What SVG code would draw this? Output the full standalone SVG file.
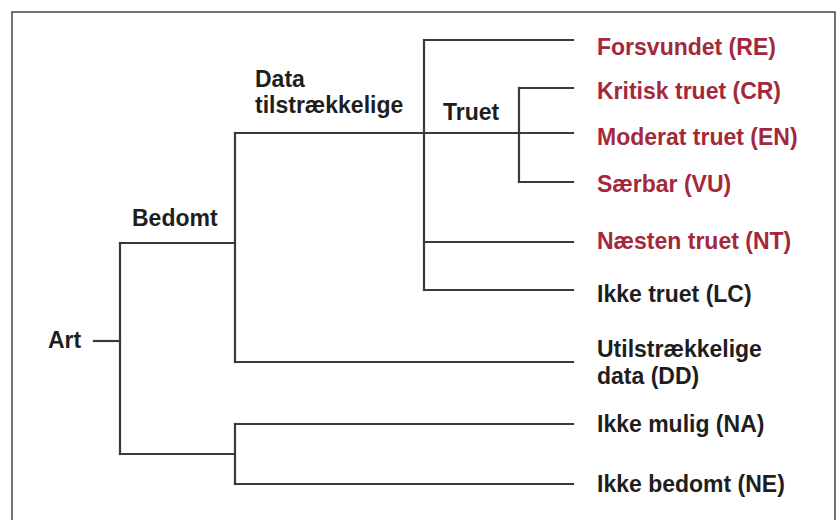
<svg xmlns="http://www.w3.org/2000/svg" width="837" height="520" viewBox="0 0 837 520">
<style>
.lbl{font-family:"Liberation Sans",Arial,sans-serif;font-size:23px;font-weight:bold;fill:#1e1e1e}
.red{fill:#a3283c}
.ln{fill:none;stroke:#3a3a3a;stroke-width:2.2;stroke-linecap:square}
</style>
<rect x="0" y="0" width="837" height="520" fill="#ffffff"/>
<rect x="12" y="12" width="823" height="520" fill="none" stroke="#444" stroke-width="1.5"/>
<g id="connectors" class="ln">
<path d="M94,341 H120"/>
<path d="M120,243 V454"/>
<path d="M120,243 H235"/>
<path d="M235,133 V362"/>
<path d="M235,133 H573"/>
<path d="M424,40 V290"/>
<path d="M424,40 H573"/>
<path d="M519,88 V182"/>
<path d="M519,88 H573"/>
<path d="M519,182 H573"/>
<path d="M424,242 H573"/>
<path d="M424,290 H573"/>
<path d="M235,362 H573"/>
<path d="M120,454 H235"/>
<path d="M235,424 V484"/>
<path d="M235,424 H573"/>
<path d="M235,484 H573"/>
</g>
<g id="art"><text class="lbl" x="48" y="348">Art</text></g>
<g id="bedomt"><text class="lbl" x="132" y="226">Bedomt</text></g>
<g id="data-tilstraekkelige"><text class="lbl" x="255" y="87">Data</text><text class="lbl" x="255" y="113">tilstrækkelige</text></g>
<g id="truet"><text class="lbl" x="443" y="120">Truet</text></g>
<g id="re"><text class="lbl red" x="597" y="55">Forsvundet (RE)</text></g>
<g id="cr"><text class="lbl red" x="597" y="99">Kritisk truet (CR)</text></g>
<g id="en"><text class="lbl red" x="597" y="145">Moderat truet (EN)</text></g>
<g id="vu"><text class="lbl red" x="597" y="192">Særbar (VU)</text></g>
<g id="nt"><text class="lbl red" x="597" y="249">Næsten truet (NT)</text></g>
<g id="lc"><text class="lbl" x="597" y="302">Ikke truet (LC)</text></g>
<g id="dd"><text class="lbl" x="597" y="357">Utilstrækkelige</text><text class="lbl" x="597" y="384">data (DD)</text></g>
<g id="na"><text class="lbl" x="597" y="432">Ikke mulig (NA)</text></g>
<g id="ne"><text class="lbl" x="597" y="492">Ikke bedomt (NE)</text></g>
</svg>
